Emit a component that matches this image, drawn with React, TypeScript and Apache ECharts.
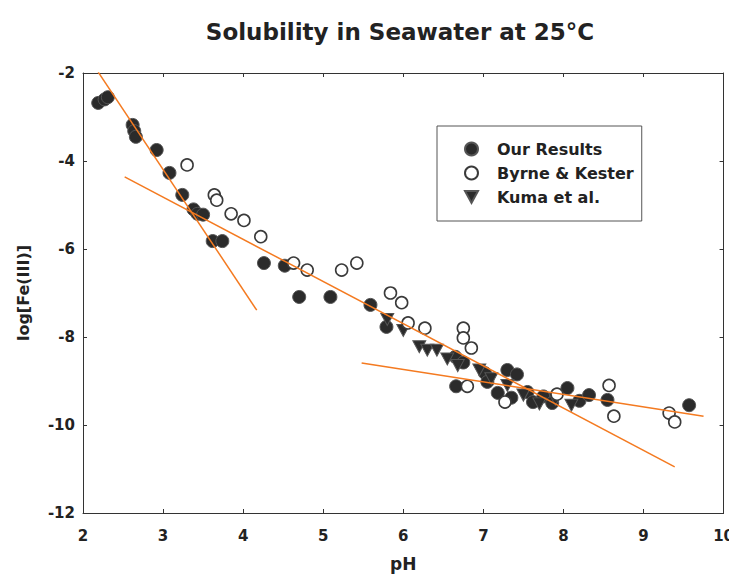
import React, { useEffect, useRef } from "react";
import * as echarts from "echarts";

const titleText = "Solubility in Seawater at 25°C";
const xName = "pH";
const yName = "log[Fe(III)]";
const xTicks = [2, 3, 4, 5, 6, 7, 8, 9, 10];
const yTicks = [-12, -10, -8, -6, -4, -2];

const ourResults: [number, number][] = [
  [2.19, -2.68], [2.27, -2.6], [2.31, -2.55], [2.62, -3.18], [2.64, -3.32], [2.66, -3.45],
  [2.92, -3.75], [3.08, -4.27], [3.24, -4.77], [3.38, -5.1], [3.43, -5.2], [3.5, -5.22],
  [3.62, -5.82], [3.74, -5.82], [4.26, -6.32], [4.52, -6.38], [4.7, -7.09], [5.09, -7.09],
  [5.59, -7.27], [5.79, -7.77], [6.65, -8.45], [6.75, -8.58], [6.66, -9.12], [7.02, -8.82],
  [7.05, -9.02], [7.3, -8.75], [7.42, -8.85], [7.18, -9.27], [7.35, -9.38], [7.55, -9.25],
  [7.62, -9.48], [7.75, -9.35], [7.86, -9.5], [8.05, -9.16], [8.2, -9.45], [8.32, -9.32],
  [8.55, -9.43], [9.57, -9.55],
];

const byrneKester: [number, number][] = [
  [3.3, -4.09], [3.64, -4.77], [3.67, -4.89], [3.85, -5.2], [4.01, -5.35], [4.22, -5.72],
  [4.63, -6.32], [4.8, -6.48], [5.23, -6.48], [5.42, -6.32], [5.84, -7.0], [5.98, -7.22],
  [6.06, -7.68], [6.27, -7.8], [6.75, -7.8], [6.75, -8.02], [6.85, -8.25], [6.8, -9.12],
  [7.27, -9.48], [7.92, -9.3], [8.57, -9.1], [8.63, -9.8], [9.32, -9.73], [9.39, -9.93],
];

const kuma: [number, number][] = [
  [5.8, -7.6], [6.0, -7.85], [6.2, -8.22], [6.3, -8.3], [6.42, -8.3], [6.55, -8.5],
  [6.68, -8.65], [6.95, -8.75], [7.1, -8.95], [7.3, -9.1], [7.5, -9.32], [7.7, -9.52],
  [7.9, -9.42], [8.1, -9.55],
];

const fitSteep: [number, number][] = [[2.19, -1.98], [4.17, -7.39]];
const fitMid: [number, number][] = [[2.52, -4.36], [9.39, -10.95]];
const fitHigh: [number, number][] = [[5.48, -8.59], [9.75, -9.8]];

const FONT = "DejaVu Sans";
const LINE_COLOR = "#f47a20";

export default function App() {
  const ref = useRef<HTMLDivElement>(null);
  useEffect(() => {
    if (!ref.current) return;
    const chart = echarts.init(ref.current, undefined, { renderer: "svg" });
    const axisLine = { show: true, lineStyle: { color: "#333", width: 1 } };
    const tick = { show: true, inside: true, length: 4, lineStyle: { color: "#333" } };
    const fitSeries = (name: string, data: [number, number][]) => ({
      name,
      type: "line",
      data,
      symbol: "none",
      z: 5,
      lineStyle: { color: LINE_COLOR, width: 1.5 },
      xAxisIndex: 0,
      yAxisIndex: 0,
    });
    chart.setOption({
      animation: false,
      backgroundColor: "#fff",
      title: {
        text: titleText,
        left: 395,
        top: 15,
        textAlign: "center",
        textStyle: { fontFamily: FONT, fontWeight: "bold", fontSize: 23, color: "#222" },
      },
      legend: {
        data: ["Our Results", "Byrne & Kester", "Kuma et al."],
        orient: "vertical",
        left: 437,
        top: 126,
        padding: [15, 8, 16, 27],
        itemGap: 8,
        itemWidth: 13,
        itemHeight: 13,
        borderColor: "#555",
        borderWidth: 1,
        textStyle: { fontFamily: FONT, fontWeight: "bold", fontSize: 16, color: "#222", padding: [0, 0, 0, 14] },
      },
      grid: { left: 83, right: 10, top: 73, bottom: 70, show: false },
      xAxis: [
        {
          type: "value",
          min: 2,
          max: 10,
          interval: 1,
          position: "bottom",
          name: xName,
          nameLocation: "middle",
          nameGap: 42,
          nameTextStyle: { fontFamily: FONT, fontWeight: "bold", fontSize: 17, color: "#222" },
          axisLine,
          axisTick: tick,
          splitLine: { show: false },
          axisLabel: {
            margin: 15,
            fontFamily: FONT,
            fontWeight: "bold",
            fontSize: 15,
            color: "#222",
            formatter: (v: number) => (xTicks.includes(v) ? String(v) : ""),
          },
        },
        {
          type: "value",
          min: 2,
          max: 10,
          interval: 1,
          position: "top",
          axisLine,
          axisTick: tick,
          axisLabel: { show: false },
          splitLine: { show: false },
        },
      ],
      yAxis: [
        {
          type: "value",
          min: -12,
          max: -2,
          interval: 2,
          position: "left",
          name: yName,
          nameLocation: "middle",
          nameGap: 52,
          nameRotate: 90,
          nameTextStyle: { fontFamily: FONT, fontWeight: "bold", fontSize: 16, color: "#222" },
          axisLine,
          axisTick: tick,
          splitLine: { show: false },
          axisLabel: {
            margin: 8,
            fontFamily: FONT,
            fontWeight: "bold",
            fontSize: 15,
            color: "#222",
            formatter: (v: number) => (yTicks.includes(v) ? String(v) : ""),
          },
        },
        {
          type: "value",
          min: -12,
          max: -2,
          interval: 2,
          position: "right",
          axisLine,
          axisTick: tick,
          axisLabel: { show: false },
          splitLine: { show: false },
        },
      ],
      series: [
        {
          name: "Our Results",
          type: "scatter",
          data: ourResults,
          symbol: "circle",
          symbolSize: 13,
          z: 2,
          itemStyle: { color: "#2b2b2b", borderColor: "#555", borderWidth: 1, opacity: 1 },
        },
        {
          name: "Byrne & Kester",
          type: "scatter",
          data: byrneKester,
          symbol: "circle",
          symbolSize: 12,
          z: 3,
          itemStyle: { color: "#fff", borderColor: "#3a3a3a", borderWidth: 1.6, opacity: 1 },
        },
        {
          name: "Kuma et al.",
          type: "scatter",
          data: kuma,
          symbol: "path://M0,0 L12,0 L6,11 Z",
          symbolSize: [13, 12],
          z: 2,
          itemStyle: { color: "#2b2b2b", borderColor: "#555", borderWidth: 1, opacity: 1 },
        },
        fitSeries("fit steep", fitSteep),
        fitSeries("fit mid", fitMid),
        fitSeries("fit high", fitHigh),
      ],
    });
    return () => chart.dispose();
  }, []);
  return <div ref={ref} style={{ width: 737, height: 583, margin: -8 }} />;
}
